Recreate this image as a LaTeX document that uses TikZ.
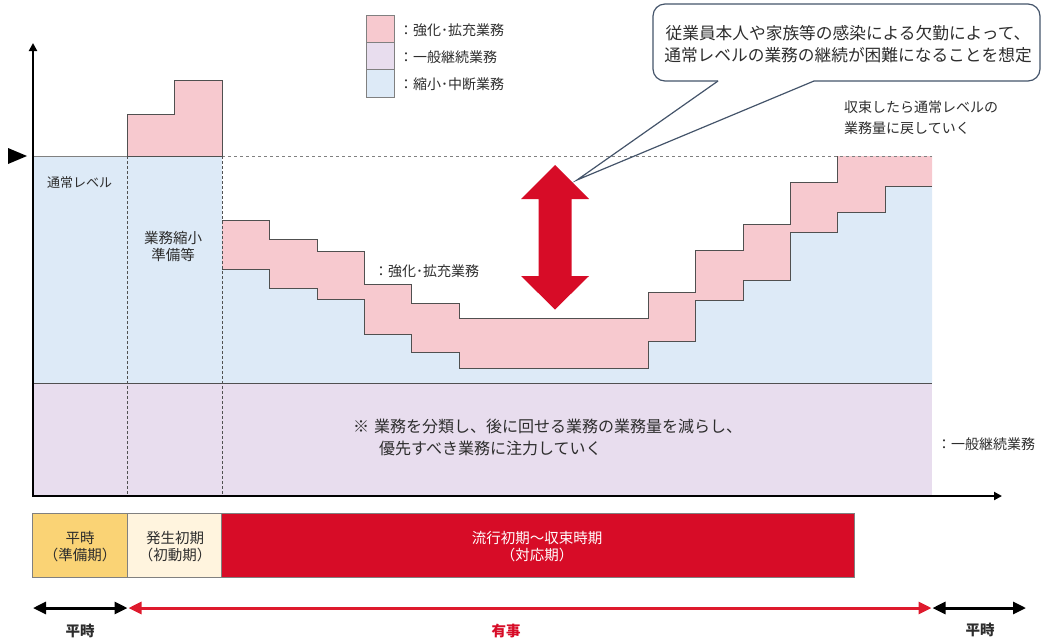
\documentclass[tikz,border=0pt]{standalone}
\usepackage{fontspec}
\setmainfont{Noto Sans CJK JP}
\usetikzlibrary{arrows.meta}
\definecolor{pinkf}{RGB}{247,201,207}
\definecolor{purplef}{RGB}{232,221,238}
\definecolor{bluef}{RGB}{221,234,247}
\definecolor{lineg}{RGB}{80,80,80}
\definecolor{lightg}{RGB}{128,128,128}
\definecolor{goldf}{RGB}{250,211,117}
\definecolor{creamf}{RGB}{255,244,222}
\definecolor{crim}{RGB}{215,12,39}
\definecolor{arrred}{RGB}{222,26,45}
\definecolor{slate}{RGB}{68,84,106}
\definecolor{txt}{RGB}{45,45,45}
\begin{document}
\begin{tikzpicture}[x=1pt,y=-1pt,
  lbl/.style={inner sep=0pt, text=txt, font=\fontsize{14}{17}\selectfont},
  bigtxt/.style={inner sep=0pt, text=txt, font=\fontsize{16}{22}\selectfont},
  stepline/.style={draw=lineg, line width=1pt},
  softline/.style={draw=lightg, line width=1pt},
  vdash/.style={draw=lineg, line width=0.8pt, dash pattern=on 3pt off 2pt},
  hdash/.style={draw=lightg, line width=1pt, dash pattern=on 3pt off 3pt},
  legbox/.style={draw=lightg, line width=0.8pt},
  barbox/.style={draw=lightg, line width=0.8pt},
  axis/.style={line width=2.7pt, black, {Triangle[length=8pt,width=8pt]}-{Triangle[length=8pt,width=8pt]}},
  blkarrow/.style={line width=3pt, black, {Triangle[length=13pt,width=12pt]}-{Triangle[length=13pt,width=12pt]}},
  redarrow/.style={line width=3pt, arrred, {Triangle[length=13pt,width=12pt]}-{Triangle[length=13pt,width=12pt]}},
  callout/.style={draw=slate, line width=1.2pt},
  boldlbl/.style={inner sep=0pt, font=\fontsize{14.5}{17}\selectfont\bfseries}
]
\useasboundingbox (0,0) rectangle (1049,638);

% regions
\fill[bluef] (33,156) -- (222,156) -- (222,269) -- (269,269) -- (269,288) -- (317,288) -- (317,299) -- (364,299) -- (364,334) -- (411,334) -- (411,352) -- (459,352) -- (459,368) -- (648,368) -- (648,341) -- (695,341) -- (695,300) -- (743,300) -- (743,280) -- (790,280) -- (790,232) -- (837,232) -- (837,212) -- (885,212) -- (885,186) -- (932,186) -- (932,383) -- (33,383) -- cycle;
\fill[purplef] (33,383) rectangle (932,496);
\fill[pinkf] (222,220) -- (269,220) -- (269,239) -- (317,239) -- (317,251) -- (364,251) -- (364,284) -- (411,284) -- (411,303) -- (459,303) -- (459,318) -- (648,318) -- (648,292) -- (695,292) -- (695,250) -- (743,250) -- (743,224) -- (790,224) -- (790,182) -- (837,182) -- (837,156) -- (932,156)
  -- (932,186) -- (885,186) -- (885,212) -- (837,212) -- (837,232) -- (790,232) -- (790,280) -- (743,280) -- (743,300) -- (695,300) -- (695,341) -- (648,341) -- (648,368) -- (459,368) -- (459,352) -- (411,352) -- (411,334) -- (364,334) -- (364,299) -- (317,299) -- (317,288) -- (269,288) -- (269,269) -- (222,269) -- cycle;
\fill[pinkf] (127,156) -- (127,114) -- (174,114) -- (174,80) -- (222,80) -- (222,156) -- cycle;

% step lines
\draw[stepline] (222,220) -- (269,220) -- (269,239) -- (317,239) -- (317,251) -- (364,251) -- (364,284) -- (411,284) -- (411,303) -- (459,303) -- (459,318) -- (648,318) -- (648,292) -- (695,292) -- (695,250) -- (743,250) -- (743,224) -- (790,224) -- (790,182) -- (837,182) -- (837,156);
\draw[stepline] (222,269) -- (269,269) -- (269,288) -- (317,288) -- (317,299) -- (364,299) -- (364,334) -- (411,334) -- (411,352) -- (459,352) -- (459,368) -- (648,368) -- (648,341) -- (695,341) -- (695,300) -- (743,300) -- (743,280) -- (790,280) -- (790,232) -- (837,232) -- (837,212) -- (885,212) -- (885,186) -- (932,186);
\draw[stepline] (33,383) -- (932,383);
\draw[softline] (33,156) -- (127,156);
\draw[stepline] (127,156) -- (127,114) -- (174,114) -- (174,80) -- (222,80) -- (222,156) -- cycle;
\draw[hdash] (222,156) -- (932,156);
\draw[vdash] (127,156) -- (127,496);
\draw[vdash] (222,156) -- (222,496);

% axes
\coordinate (ytip) at (33,43);
\coordinate (orig) at (33,496);
\coordinate (xtip) at (1002,496);
\draw[axis, line join=miter] (ytip) -- (orig) -- (xtip);
\fill[black] (8,148) -- (8,164) -- (27,156) -- cycle;

% legend
\draw[legbox, fill=pinkf] (366,15) rectangle (394,42.3);
\draw[legbox, fill=purplef] (366,42.3) rectangle (394,69.7);
\draw[legbox, fill=bluef] (366,69.7) rectangle (394,97);
\node[lbl, anchor=west] (leg1) at (399,30) {：強化･拡充業務};
\node[lbl, anchor=west] (leg2) at (399,57) {：一般継続業務};
\node[lbl, anchor=west] (leg3) at (399,84) {：縮小･中断業務};

% labels in chart
\node[lbl, anchor=west, font=\fontsize{13}{16}\selectfont] (normal) at (47,183) {通常レベル};
\node[lbl, align=center, font=\fontsize{14.5}{17}\selectfont] (prep) at (173,246) {業務縮小\\準備等};
\node[lbl, anchor=west] (midlbl) at (374,271) {：強化･拡充業務};
\node[lbl, anchor=west] (rightlbl) at (937,444) {：一般継続業務};
\node[bigtxt, anchor=west] (note1) at (353,426) {※\hspace{5pt}業務を分類し、後に回せる業務の業務量を減らし、};
\node[bigtxt, anchor=west] (note2) at (379,448) {優先すべき業務に注力していく};
\node[lbl, anchor=west] (ret1) at (844,107) {収束したら通常レベルの};
\node[lbl, anchor=west] (ret2) at (844,128) {業務量に戻していく};

% red double arrow
\fill[crim] (555,165) -- (589,199) -- (571.5,199) -- (571.5,276) -- (589,276) -- (555,309.5) -- (521,276) -- (538.5,276) -- (538.5,199) -- (521,199) -- cycle;

% callout
\draw[callout, rounded corners=12pt] (814,81) -- (1040,81) -- (1040,4) -- (653,4) -- (653,81) -- (718,81);
\draw[callout, line join=miter] (718,81) -- (577,180) -- (814,81);
\node[inner sep=0pt, text=txt, align=center, font=\fontsize{16.7}{22}\selectfont] (callout) at (848,44) {従業員本人や家族等の感染による欠勤によって、\\通常レベルの業務の継続が困難になることを想定};

% phase bars
\draw[barbox, fill=goldf] (32.5,513.3) rectangle (127.7,577.7);
\draw[barbox, fill=creamf] (127.7,513.3) rectangle (221.7,577.7);
\draw[barbox, fill=crim] (221.7,513.3) rectangle (854.3,577.7);
\node[lbl, align=center, font=\fontsize{14.5}{17.6}\selectfont] (ph1) at (80,546.5) {平時\\（準備期）};
\node[lbl, align=center, font=\fontsize{14.5}{17.6}\selectfont] (ph2) at (175,546.5) {発生初期\\（初動期）};
\node[lbl, align=center, text=white, font=\fontsize{14.5}{17.6}\selectfont] (ph3) at (537,546.5) {流行初期～収束時期\\（対応期）};

% bottom arrows
\coordinate (a0) at (33,608);
\coordinate (a1) at (127.5,608);
\coordinate (a2) at (128.5,608);
\coordinate (a3) at (931.5,608);
\coordinate (a4) at (932.5,608);
\coordinate (a5) at (1026,608);
\draw[blkarrow] (a0) -- (a1);
\draw[redarrow] (a2) -- (a3);
\draw[blkarrow] (a4) -- (a5);
\node[boldlbl, text=txt] (heiji1) at (80,631) {平時};
\node[boldlbl, text=crim] (yuji) at (506,631) {有事};
\node[boldlbl, text=txt] (heiji2) at (980,630) {平時};
\end{tikzpicture}
\end{document}
